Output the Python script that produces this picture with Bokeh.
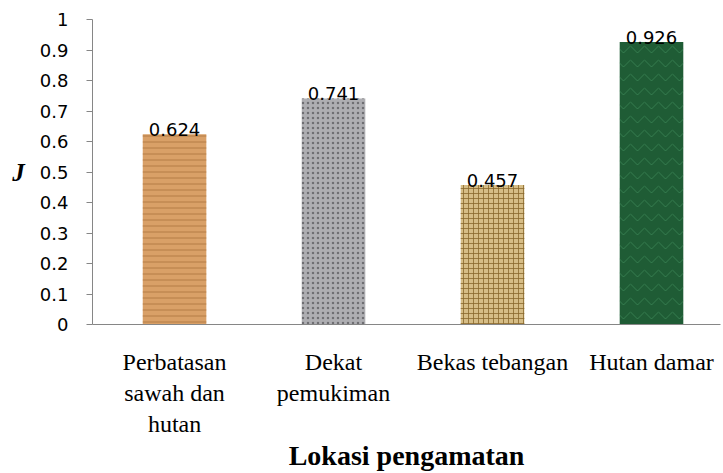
from bokeh.plotting import figure
from bokeh.models import Range1d, FixedTicker, Label, ColumnDataSource
from bokeh.core.properties import value
from bokeh.embed import file_html
from bokeh.resources import INLINE

# ---- data ----
categories = ["Perbatasan\nsawah dan\nhutan", "Dekat\npemukiman", "Bekas tebangan", "Hutan damar"]
values = [0.624, 0.741, 0.457, 0.926]
value_labels = ["0.624", "0.741", "0.457", "0.926"]
y_ticks = [0, 0.1, 0.2, 0.3, 0.4, 0.5, 0.6, 0.7, 0.8, 0.9, 1]
y_tick_labels = ["0", "0.1", "0.2", "0.3", "0.4", "0.5", "0.6", "0.7", "0.8", "0.9", "1"]
x_title = "Lokasi pengamatan"
y_title = "J"

# ---- styles (texture approximations) ----
positions = list(range(len(categories)))
fills = ["#d9a067", "#aeaeb2", "#d6bd86", "#1f5c35"]
hatch_colors = ["#a56c36", "#5f5f63", "#8a682c", "#4a9a66"]
hatch_patterns = ["-", ".", "+", "v"]
hatch_scales = [6, 5, 5, 14]
hatch_alphas = [0.7, 0.8, 0.8, 0.5]

src = ColumnDataSource(dict(x=positions, top=values, lab=value_labels, fill=fills,
                            hc=hatch_colors, hp=hatch_patterns, hs=hatch_scales, ha=hatch_alphas))

p = figure(width=723, height=473, output_backend="svg", toolbar_location=None,
           x_range=Range1d(-0.516, 3.434), y_range=Range1d(0, 1),
           min_border_left=92, min_border_right=3, min_border_top=19, min_border_bottom=148)
p.outline_line_color = None
p.grid.visible = False
p.background_fill_color = "white"
p.border_fill_color = "white"

p.vbar(x="x", top="top", width=0.4, source=src, fill_color="fill", line_color=None,
       hatch_pattern="hp", hatch_color="hc", hatch_scale="hs", hatch_alpha="ha", hatch_weight=1)

p.text(x="x", y="top", text="lab", source=src, text_align="center", text_baseline="bottom",
       y_offset=1.5, text_font=value("DejaVu Sans"), text_font_size="18px", text_color="black")

axis_gray = "#868686"

ya = p.yaxis[0]
ya.ticker = FixedTicker(ticks=y_ticks)
ya.major_label_overrides = {t: l for t, l in zip(y_ticks, y_tick_labels)}
ya.axis_line_color = axis_gray
ya.major_tick_line_color = axis_gray
ya.major_tick_out = 6
ya.major_tick_in = 0
ya.minor_tick_line_color = None
ya.major_label_text_font = "DejaVu Sans"
ya.major_label_text_font_size = "18px"
ya.major_label_text_color = "black"
ya.major_label_standoff = 18

if "axis_label_orientation" in ya.properties():
    ya.axis_label = y_title
    ya.axis_label_orientation = "horizontal"
    ya.axis_label_text_font = "Liberation Serif"
    ya.axis_label_text_font_style = "bold italic"
    ya.axis_label_text_font_size = "25px"
    ya.axis_label_text_color = "black"
    ya.axis_label_standoff = 12
else:
    p.add_layout(Label(x=-73, y=153, x_units="screen", y_units="screen", text=y_title,
                       text_font="Liberation Serif", text_font_style="bold italic",
                       text_font_size="25px", text_align="center", text_baseline="middle",
                       text_color="black"))

xa = p.xaxis[0]
xa.ticker = FixedTicker(ticks=positions)
xa.major_label_overrides = {i: c for i, c in zip(positions, categories)}
xa.axis_line_color = axis_gray
xa.major_tick_line_color = None
xa.major_tick_out = 0
xa.major_tick_in = 0
xa.minor_tick_line_color = None
xa.major_label_text_font = "Liberation Serif"
xa.major_label_text_font_size = "24px"
xa.major_label_text_color = "black"
xa.major_label_standoff = 24
xa.axis_label = x_title
xa.axis_label_text_font = "Liberation Serif"
xa.axis_label_text_font_style = "bold"
xa.axis_label_text_font_size = "28px"
xa.axis_label_text_color = "black"
xa.axis_label_standoff = 0

open("out.html", "w").write(file_html(p, INLINE))
